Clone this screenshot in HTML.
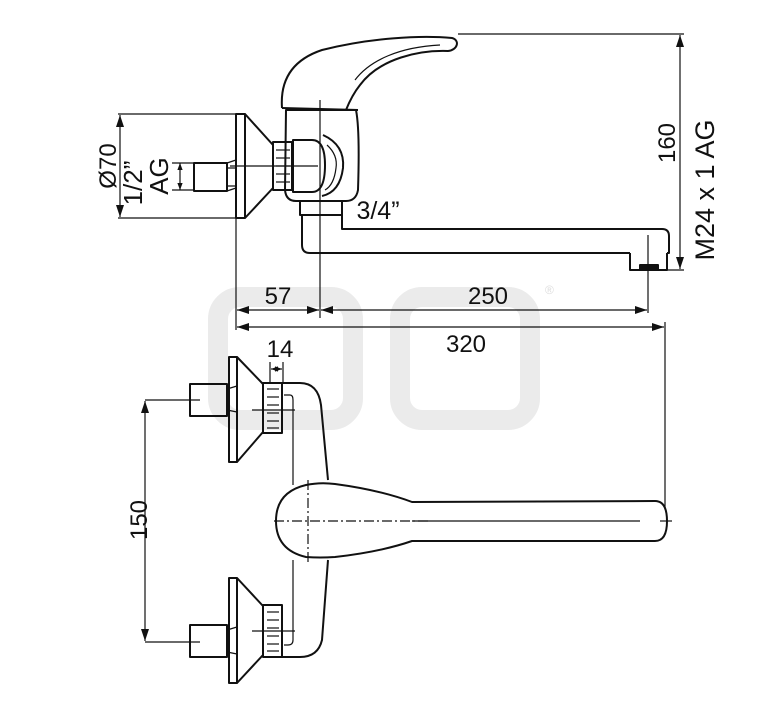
<!DOCTYPE html>
<html><head><meta charset="utf-8"><style>
html,body{margin:0;padding:0;background:#fff;}
svg{display:block;}
text{font-family:"Liberation Sans",sans-serif;fill:#111;}
</style></head><body>
<svg width="767" height="709" viewBox="0 0 767 709" xmlns="http://www.w3.org/2000/svg">
<defs>
<marker id="a" viewBox="0 0 12 8" refX="12" refY="4" markerWidth="13" markerHeight="8" orient="auto-start-reverse" markerUnits="userSpaceOnUse"><path d="M0,0 L12,4 L0,8 z" fill="#111"/></marker>
<marker id="s" viewBox="0 0 8 6" refX="8" refY="3" markerWidth="7" markerHeight="6" orient="auto-start-reverse" markerUnits="userSpaceOnUse"><path d="M0,0 L8,3 L0,6 z" fill="#111"/></marker>
</defs>
<g fill="none" stroke="#ebebeb" stroke-width="20">
<rect x="218" y="297" width="135" height="123" rx="22"/>
<rect x="400" y="297" width="130" height="123" rx="22"/>
</g>
<text x="545" y="294" font-size="12" style="fill:#ddd">®</text>

<g fill="none" stroke="#111" stroke-width="2" stroke-linejoin="round">
<path d="M282,108 C280,80 292,60 322,50 C370,38 420,35 452,38 C460,40 458,50 448,51 C420,50 380,58 360,85 C352,95 348,105 346,110"/>
<path d="M355,80 C370,60 400,47 440,45" stroke-width="1.2"/>
<line x1="282" y1="108" x2="358" y2="110"/>
<path d="M286,110 L356,110 Q360,130 358,190 Q356,201 346,201 L296,201 Q286,201 285,190 Z"/>
<path d="M293,140 L312,140 Q325,140 325,165 Q325,192 312,192 L293,192 Z"/>
<path d="M323,135 Q345,145 343,168 Q340,192 322,196" />
<path d="M327,145 Q338,155 336,168 Q334,185 325,190" stroke-width="1.2"/>
<rect x="273" y="142" width="19" height="48"/>
<line x1="276" y1="150" x2="290" y2="150" stroke-width="1.2"/><line x1="276" y1="158" x2="290" y2="158" stroke-width="1.2"/><line x1="276" y1="166" x2="290" y2="166" stroke-width="1.2"/><line x1="276" y1="174" x2="290" y2="174" stroke-width="1.2"/><line x1="276" y1="182" x2="290" y2="182" stroke-width="1.2"/>
<rect x="236" y="114" width="9" height="104"/>
<path d="M245,114 L273,145 M273,188 L245,218"/>
<rect x="194" y="163" width="33" height="28"/>
<path d="M227,163 L236,160 M227,191 L236,188 M228,168 L236,168 M228,186 L236,186" stroke-width="1.2"/>
<rect x="300" y="201" width="42" height="14"/>
<path d="M302,215 L302,245 Q302,253 310,253 L630,253"/>
<path d="M342,215 L342,229 L662,229 Q669,229 669,236 L669,253 L667,253"/>
<path d="M630,253 L630,270 L667,270 L667,253" />
<rect x="640" y="265" width="18" height="5" fill="#111"/>
</g>
<g stroke="#111" stroke-width="1.2" fill="none">
<line x1="320" y1="100" x2="320" y2="318"/>
<line x1="230" y1="166" x2="318" y2="166"/>
<line x1="236" y1="218" x2="236" y2="330"/>
<line x1="648" y1="235" x2="648" y2="313"/>
<line x1="665" y1="322" x2="665" y2="530"/>
<line x1="118" y1="114" x2="236" y2="114"/>
<line x1="118" y1="218" x2="236" y2="218"/>
<line x1="458" y1="34" x2="684" y2="34"/>
<line x1="667" y1="270" x2="684" y2="270"/>
<line x1="120" y1="115" x2="120" y2="217" marker-start="url(#a)" marker-end="url(#a)"/>
<line x1="180" y1="163" x2="180" y2="190" marker-start="url(#s)" marker-end="url(#s)"/>
<line x1="172" y1="163" x2="194" y2="163"/><line x1="172" y1="190" x2="194" y2="190"/>
<line x1="680" y1="35" x2="680" y2="269" marker-start="url(#a)" marker-end="url(#a)"/>
<line x1="237" y1="310" x2="319" y2="310" marker-start="url(#a)" marker-end="url(#a)"/>
<line x1="321" y1="310" x2="647" y2="310" marker-start="url(#a)" marker-end="url(#a)"/>
<line x1="237" y1="327" x2="664" y2="327" marker-start="url(#a)" marker-end="url(#a)"/>
</g>
<text x="278" y="304" font-size="24" text-anchor="middle">57</text>
<text x="488" y="304" font-size="24" text-anchor="middle">250</text>
<text x="466" y="352" font-size="24" text-anchor="middle">320</text>
<text x="378" y="219" font-size="25" text-anchor="middle">3/4”</text>
<text transform="translate(116,166) rotate(-90)" font-size="24" text-anchor="middle">Ø70</text>
<text transform="translate(142,183) rotate(-90)" font-size="26" text-anchor="middle">1/2”</text>
<text transform="translate(168,176) rotate(-90)" font-size="26" text-anchor="middle">AG</text>
<text transform="translate(675,143) rotate(-90)" font-size="24" text-anchor="middle">160</text>
<text transform="translate(714,190) rotate(-90)" font-size="27" text-anchor="middle">M24 x 1 AG</text>

<g fill="none" stroke="#111" stroke-width="2" stroke-linejoin="round">
<path d="M282,383 L300,383 Q318,383 321,405 L328,480 M328,560 L322,640 Q318,657 300,657 L282,657"/>
<path d="M284,395 L290,395 Q293,395 293,400 L293,485 M293,560 L293,640 Q293,645 288,645 L284,645" stroke-width="1.2"/>
<rect x="229" y="357" width="8" height="105"/>
<path d="M237,357 L263,384 M263,432 L237,462"/>
<rect x="263" y="383" width="19" height="50"/>
<rect x="190" y="384" width="37" height="32"/>
<path d="M227,389 L237,386 M227,410 L237,412" stroke-width="1.2"/>
<rect x="229" y="578" width="8" height="105"/>
<path d="M237,578 L263,606 M263,655 L237,683"/>
<rect x="263" y="605" width="19" height="52"/>
<rect x="190" y="625" width="37" height="32"/>
<path d="M227,630 L237,627 M227,652 L237,654" stroke-width="1.2"/>
<path d="M306,485 Q320,482 335,484 Q380,490 412,502 L655,501 Q667,501 667,521 Q667,541 655,541 L412,541 Q380,552 335,557 Q320,558 306,557 Q276,550 276,521 Q276,492 306,485 Z" fill="#fff"/>
</g>
<g stroke="#111" stroke-width="1.2" fill="none">
<line x1="267" y1="389" x2="279" y2="389"/><line x1="267" y1="397" x2="279" y2="397"/><line x1="267" y1="405" x2="279" y2="405"/><line x1="267" y1="413" x2="279" y2="413"/><line x1="267" y1="421" x2="279" y2="421"/><line x1="267" y1="428" x2="279" y2="428"/>
<line x1="267" y1="612" x2="279" y2="612"/><line x1="267" y1="620" x2="279" y2="620"/><line x1="267" y1="628" x2="279" y2="628"/><line x1="267" y1="636" x2="279" y2="636"/><line x1="267" y1="644" x2="279" y2="644"/><line x1="267" y1="651" x2="279" y2="651"/>
<line x1="252" y1="410" x2="295" y2="410"/>
<line x1="252" y1="631" x2="295" y2="631"/>
<line x1="412" y1="521" x2="640" y2="521"/>
<line x1="274" y1="521" x2="430" y2="521" stroke-dasharray="10,3,2,3"/>
<line x1="308" y1="480" x2="308" y2="562" stroke-dasharray="10,3,2,3"/>
<line x1="660" y1="521" x2="672" y2="521"/>
<line x1="145" y1="400" x2="200" y2="400"/>
<line x1="145" y1="642" x2="200" y2="642"/>
<line x1="145" y1="401" x2="145" y2="641" marker-start="url(#a)" marker-end="url(#a)"/>
<line x1="270" y1="362" x2="270" y2="382"/><line x1="283" y1="362" x2="283" y2="382"/>
<line x1="271" y1="369" x2="282" y2="369" marker-start="url(#s)" marker-end="url(#s)"/>
</g>
<text x="280" y="357" font-size="24" text-anchor="middle">14</text>
<text transform="translate(147,520) rotate(-90)" font-size="24" text-anchor="middle">150</text>
</svg>
</body></html>
